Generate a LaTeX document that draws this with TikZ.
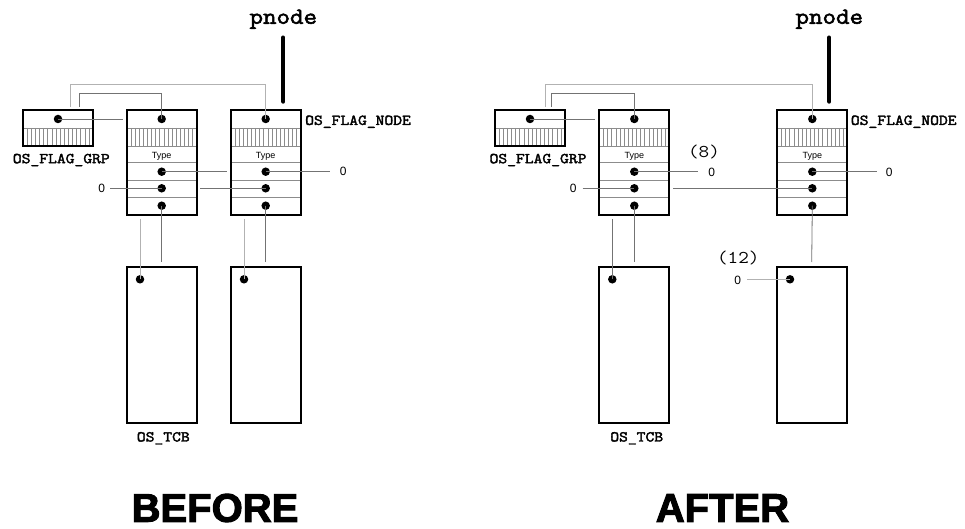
\documentclass[tikz,border=0pt]{standalone}
\usepackage{fontspec}
\setmainfont{Liberation Sans}
\newfontfamily\cour[FakeStretch=1.14]{Latin Modern Mono}
\newfontfamily\courb[FakeBold=2.5,FakeStretch=1.14]{Latin Modern Mono}
\newfontfamily\heavy[FakeBold=2.5]{Liberation Sans Bold}
\tikzset{
  boxline/.style={draw=black,line width=2pt},
  sepline/.style={draw=black!45,line width=0.6pt},
  hatchline/.style={draw=black!45,line width=0.5pt},
  dot/.style={circle,fill=black,inner sep=0pt,minimum size=8.5pt},
  conn/.style={draw=black!55,line width=0.8pt},
  lightconn/.style={draw=black!30,line width=1pt},
  lbl/.style={font=\courb\fontsize{15}{15}\selectfont,inner sep=0pt},
  small/.style={font=\fontsize{12}{12}\selectfont,inner sep=0pt},
  typetxt/.style={font=\fontsize{9}{9}\selectfont,inner sep=0pt},
  stepnum/.style={font=\cour\fontsize{18}{18}\selectfont,inner sep=0pt},
  big/.style={font=\heavy\fontsize{40}{40}\selectfont,inner sep=0pt},
}
% flag node box: #1 name prefix, #2 left x
\newcommand\FlagNodeBox[2]{%
  \draw[sepline] (#2,128) -- ++(70,0);
  \draw[sepline] (#2,146) -- ++(70,0);
  \draw[sepline] (#2,162.3) -- ++(70,0);
  \draw[sepline] (#2,180) -- ++(70,0);
  \draw[sepline] (#2,197.3) -- ++(70,0);
  \foreach \i in {1,...,16} {\draw[hatchline] (#2+\i*4.12,128) -- (#2+\i*4.12,146);}
  \draw[boxline] (#2,110) rectangle ++(70,105);
  \node[typetxt] at (#2+35,156.2) {Type};
  \node[dot] (#1a) at (#2+35,119) {};
  \node[dot] (#1b) at (#2+35,171.7) {};
  \node[dot] (#1c) at (#2+35,188.3) {};
  \node[dot] (#1d) at (#2+35,205.7) {};
}
\newcommand\GrpBox[2]{%
  \draw[sepline] (#2,128) -- ++(70,0);
  \foreach \i in {1,...,16} {\draw[hatchline] (#2+\i*4.12,128) -- (#2+\i*4.12,146);}
  \draw[boxline] (#2,110) rectangle ++(70,36);
  \node[dot] (#1) at (#2+35,119) {};
}
\newcommand\TcbBox[3]{%
  \draw[boxline] (#2,266.7) rectangle ++(70,156);
  \node[dot] (#1) at (#2+#3,279.3) {};
}
\begin{document}
\begin{tikzpicture}[x=1pt,y=-1pt]
\useasboundingbox (0,0) rectangle (965,529);
\fill[white] (0,0) rectangle (965,529);

% ================= BEFORE =================
\GrpBox{gA}{23}
\FlagNodeBox{lA}{126.7}
\FlagNodeBox{rA}{230.7}
\TcbBox{tA1}{126.7}{13.3}
\TcbBox{tA2}{230.7}{13.3}

\node[lbl] (grpA) at (61.3,160) {OS\_FLAG\_GRP};
\node[lbl,anchor=west] (fnA) at (305,121.7) {OS\_FLAG\_NODE};
\node[lbl] (tcbA) at (163.3,438.3) {OS\_TCB};
\node[font=\courb\fontsize{23}{23}\selectfont,inner sep=0pt] (pA) at (283.3,19.3) {pnode};
\coordinate (pAe) at (283.3,101.7);
\draw[line width=4pt,line cap=round] (283.3,37.5) -- (pAe);

\coordinate (gAe) at (122.7,119);
\draw[conn] (gA.center) -- (gAe);
\coordinate (gAo) at (70.7,106.7);
\coordinate (gAi) at (79.3,106.7);
\draw[lightconn] (gAo) -- (70.7,84.3) -| (rAa.center);
\draw[conn] (gAi) -- (79.3,93.3) -| (lAa.center);

\coordinate (lAbe) at (226.7,171.7);
\draw[conn] (lAb.center) -- (lAbe);
\coordinate (rAcs) at (200,188.3);
\draw[conn] (rAcs) -- (rAc.center);
\node[small] (zA1) at (101.7,188.3) {0};
\draw[conn] (110,188.3) -- (lAc.center);
\node[small] (zA2) at (343.3,171.7) {0};
\draw[conn] (rAb.center) -- (330,171.7);

\draw[conn] (lAd.center) -- (161.7,261.7);
\draw[conn] (rAd.center) -- (265.7,261.7);
\draw[lightconn] (tA1.center) -- (140,219.3);
\draw[lightconn] (tA2.center) -- (244,219.3);

\node[big] (before) at (215,508) {BEFORE};

% ================= AFTER =================
\GrpBox{gB}{495}
\FlagNodeBox{lB}{599.3}
\FlagNodeBox{rB}{777.3}
\TcbBox{tB1}{599.3}{13}
\TcbBox{tB2}{777.3}{12.7}

\node[lbl] (grpB) at (538,160) {OS\_FLAG\_GRP};
\node[lbl,anchor=west] (fnB) at (850.7,121.7) {OS\_FLAG\_NODE};
\node[lbl] (tcbB) at (636.7,438.3) {OS\_TCB};
\node[font=\courb\fontsize{23}{23}\selectfont,inner sep=0pt] (pB) at (829.3,19.3) {pnode};
\coordinate (pBe) at (829.3,101.7);
\draw[line width=4pt,line cap=round] (829.3,37.5) -- (pBe);

\coordinate (gBe) at (595,119);
\draw[conn] (gB.center) -- (gBe);
\draw[lightconn] (545,106.7) -- (545,84.3) -| (rBa.center);
\draw[conn] (551.7,106.7) -- (551.7,93.3) -| (lBa.center);

\draw[conn] (lBb.center) -- (698.3,171.7);
\node[small] (zB1) at (711.7,172) {0};
\node[stepnum] (s8) at (704,151.7) {(8)};
\node[small] (zB2) at (573.3,188.3) {0};
\draw[conn] (582.7,188.3) -- (lBc.center);
\draw[conn] (673.3,188.3) -- (rBc.center);
\draw[conn] (rBb.center) -- (876.7,171.7);
\node[small] (zB3) at (889.3,172) {0};

\draw[conn] (lBd.center) -- (634.3,262);
\draw[conn] (tB1.center) -- (612.3,219.3);
\draw[conn] (rBd.center) -- (811.7,262);
\draw[lightconn] (tB2.center) -- (746.7,279.3);
\node[small] (zB4) at (737.7,280.7) {0};
\node[stepnum] (s12) at (738.3,258.3) {(12)};

\node[big] (after) at (722.5,508) {AFTER};
\end{tikzpicture}
\end{document}
